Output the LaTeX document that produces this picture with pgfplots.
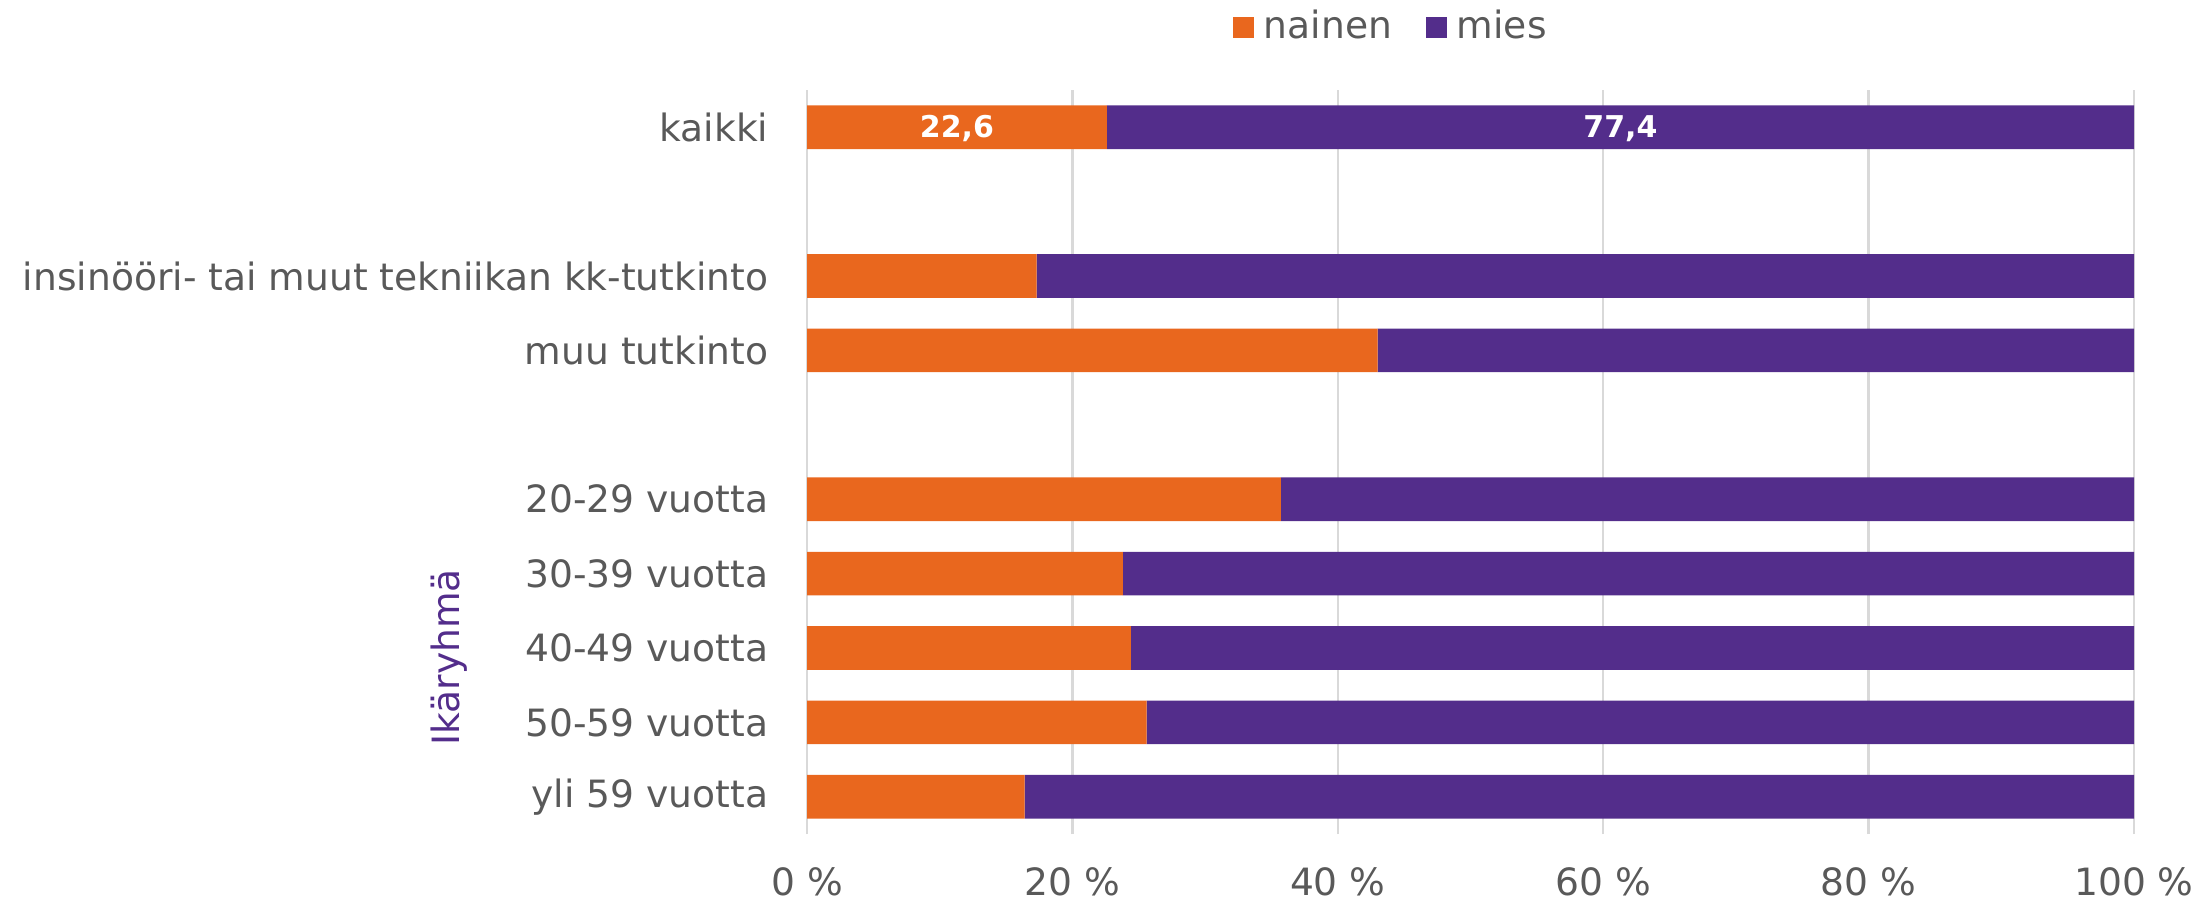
\documentclass[border=0pt]{standalone}
\usepackage{fontspec}
\setmainfont{DejaVu Sans}
\usepackage{pgfplots}
\usepackage{pgfplotstable}
\pgfplotsset{compat=1.18}
\definecolor{cOrange}{RGB}{233,103,30}
\definecolor{cPurple}{RGB}{83,45,139}
\definecolor{cText}{RGB}{89,89,89}
\definecolor{cGrid}{RGB}{217,217,217}
\pgfplotstableread{
y nainen mies
9 22.6 77.4
7 17.3 82.7
6 43.0 57.0
4 35.7 64.3
3 23.8 76.2
2 24.4 75.6
1 25.6 74.4
0 16.4 83.6
}\datatable
\newcommand{\lblfont}{\fontsize{9.4}{11}\selectfont}
\begin{document}
\begin{tikzpicture}
\path[use as bounding box] (0,0) rectangle (550.75pt,225.25pt);
\begin{axis}[
  at={(201.75pt,16.75pt)}, anchor=south west,
  scale only axis, width=331.75pt, height=186pt,
  xbar stacked, bar width=0.587,
  xmin=0, xmax=100, ymin=-0.5, ymax=9.5,
  axis line style={draw=none},
  major tick length=0pt,
  xmajorgrids, grid style={cGrid, line width=0.6pt},
  xtick={0,20,40,60,80,100},
  xticklabels={0 \%,20 \%,40 \%,60 \%,80 \%,100 \%},
  ytick={0,1,2,3,4,6,7,9},
  yticklabels={yli 59 vuotta,50-59 vuotta,40-49 vuotta,30-39 vuotta,20-29 vuotta,muu tutkinto,insinööri- tai muut tekniikan kk-tutkinto,kaikki},
  xticklabel style={font=\lblfont, text=cText, inner sep=0pt, anchor=north, yshift=-8.3pt},
  yticklabel style={font=\lblfont, text=cText, inner sep=0pt, anchor=east, xshift=-9.5pt},
  ylabel={Ikäryhmä},
  ylabel style={font=\lblfont, text=cPurple, at={(axis description cs:-0.27,0.2374)}, anchor=center, rotate=0},
  legend style={at={(axis description cs:0.443,1.084)}, anchor=center, draw=none, fill=none,
    legend columns=-1, font=\lblfont, text=cText,
    nodes={inner xsep=2.5pt, inner ysep=0pt},
    /tikz/every even column/.append style={column sep=6pt}},
  legend image code/.code={\fill[#1] (0pt,-2.6pt) rectangle (5.2pt,2.6pt);},
  every node near coord/.append style={font=\bfseries\fontsize{7.5}{8.5}\selectfont, text=white, anchor=center, yshift=-0.3pt},
]
\addplot[fill=cOrange, draw=none,
  visualization depends on={\thisrow{nainen} \as \rawv},
  visualization depends on={y \as \rowy},
  nodes near coords={\ifdim\rowy pt>8pt \pgfmathprintnumber[assume math mode=true,use comma,fixed,fixed zerofill,precision=1]{\rawv}\fi},
] table[x=nainen,y=y]{\datatable};
\addlegendentry{nainen}
\addplot[fill=cPurple, draw=none,
  visualization depends on={\thisrow{mies} \as \rawv},
  visualization depends on={y \as \rowy},
  nodes near coords={\ifdim\rowy pt>8pt \pgfmathprintnumber[assume math mode=true,use comma,fixed,fixed zerofill,precision=1]{\rawv}\fi},
] table[x=mies,y=y]{\datatable};
\addlegendentry{mies}
\end{axis}
\end{tikzpicture}
\end{document}
